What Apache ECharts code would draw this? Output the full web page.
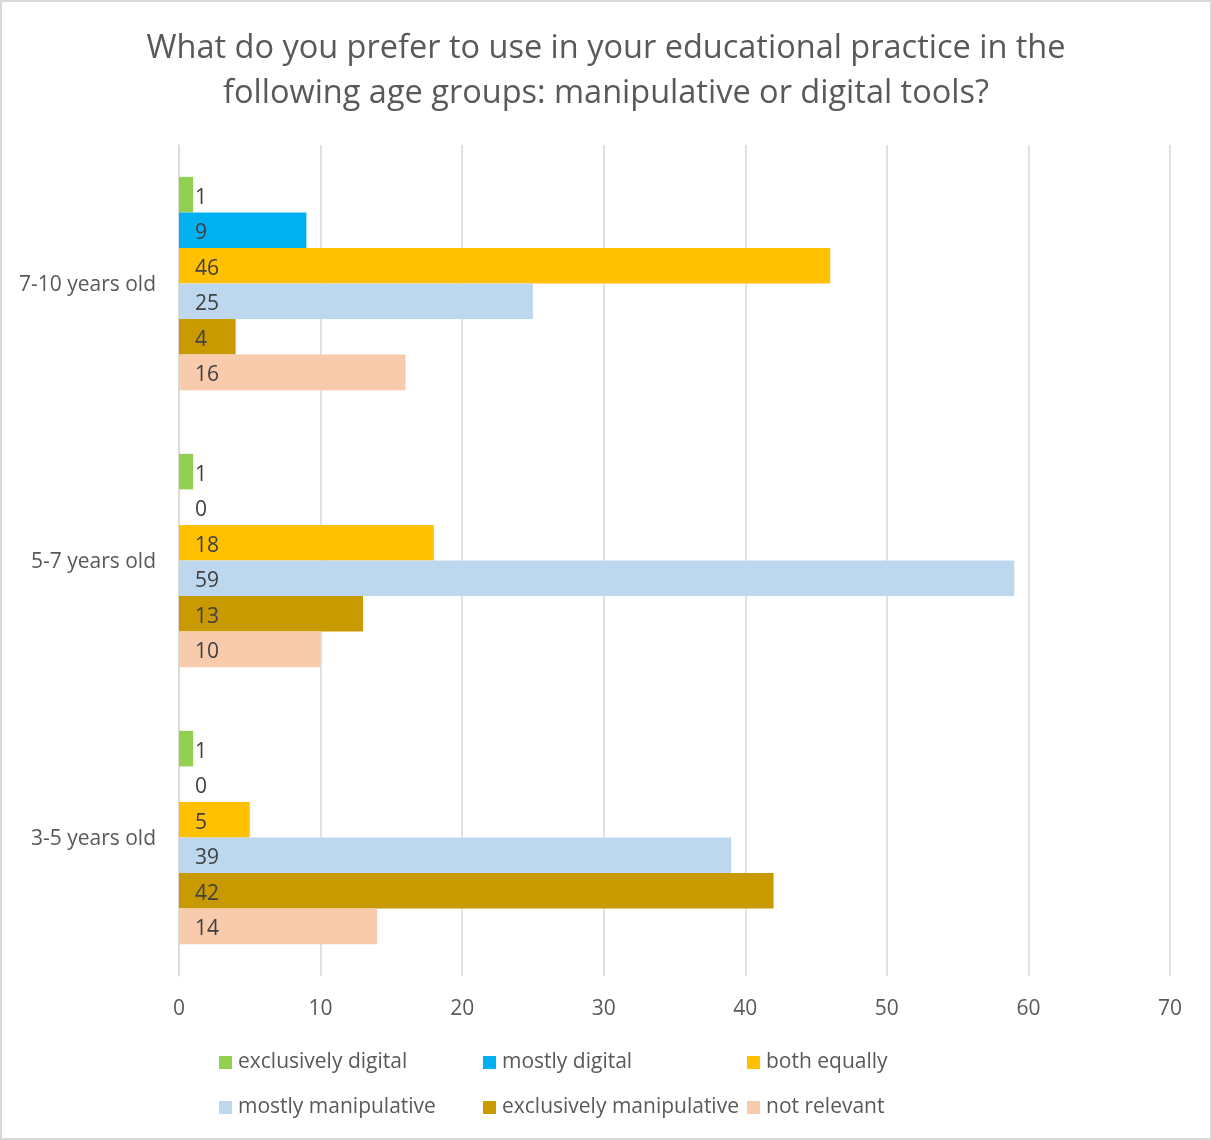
<!DOCTYPE html>
<html>
<head>
<meta charset="utf-8">
<script src="https://cdn.jsdelivr.net/npm/echarts@6/dist/echarts.min.js"></script>
<style>
  html, body { margin: 0; padding: 0; background: #ffffff; }
  #chart { width: 1212px; height: 1140px; }
</style>
</head>
<body>
<div id="chart"></div>
<script>
// Age groups, top to bottom
const categories = ['7-10 years old', '5-7 years old', '3-5 years old'];

// Responses per age group (same order as categories)
const exclusivelyDigital = [1, 1, 1];
const mostlyDigital = [9, 0, 0];
const bothEqually = [46, 18, 5];
const mostlyManipulative = [25, 59, 39];
const exclusivelyManipulative = [4, 13, 42];
const notRelevant = [16, 10, 14];

const seriesNames = ['exclusively digital', 'mostly digital', 'both equally',
  'mostly manipulative', 'exclusively manipulative', 'not relevant'];
const seriesValues = [exclusivelyDigital, mostlyDigital, bothEqually,
  mostlyManipulative, exclusivelyManipulative, notRelevant];
const seriesColors = ['#92D050', '#00B0F0', '#FFC000', '#BDD7EE', '#C99A00', '#F8CBAD'];

const xTicks = { min: 0, max: 70, interval: 10 };

const FONT = '"Open Sans", "DejaVu Sans", sans-serif';
const TEXT_GREY = '#595959';
const LABEL_DARK = '#404040';

const chart = echarts.init(document.getElementById('chart'), null, { renderer: 'canvas' });

const series = seriesNames.map((name, i) => ({
  name: name,
  type: 'bar',
  data: seriesValues[i],
  barGap: '0%',
  barCategoryGap: '23%',
  itemStyle: { color: seriesColors[i] },
  label: {
    show: true,
    position: 'insideLeft',
    distance: 16,
    formatter: '{v|{c}}',
    rich: { v: { color: LABEL_DARK, fontSize: 21, fontFamily: FONT, padding: [6, 0, 0, 0] } }
  },
  labelLayout: { hideOverlap: false }
}));

// Legend laid out as a 3 x 2 grid
const legendCols = [219, 483, 747];
const legendRows = [1052, 1097];
const legends = seriesNames.map((name, i) => ({
  data: [name],
  left: legendCols[i % 3],
  top: legendRows[Math.floor(i / 3)],
  icon: 'rect',
  itemWidth: 13,
  itemHeight: 13,
  itemGap: 6,
  padding: 0,
  selectedMode: false,
  textStyle: { color: TEXT_GREY, fontSize: 21, fontFamily: FONT, padding: [0, 0, 0, 1] }
}));

chart.setOption({
  animation: false,
  backgroundColor: '#ffffff',
  title: {
    text: 'What do you prefer to use in your educational practice in the\nfollowing age groups: manipulative or digital tools?',
    left: 'center',
    top: 21,
    textStyle: {
      color: TEXT_GREY,
      fontSize: 32.5,
      fontWeight: 'normal',
      fontFamily: FONT,
      lineHeight: 45
    }
  },
  legend: legends,
  grid: { left: 179, right: 42, top: 145, bottom: 164, containLabel: false },
  xAxis: {
    type: 'value',
    min: xTicks.min,
    max: xTicks.max,
    interval: xTicks.interval,
    axisLine: { show: false },
    axisTick: { show: false },
    splitLine: { show: true, lineStyle: { color: '#D9D9D9', width: 1.5 } },
    axisLabel: { color: TEXT_GREY, fontSize: 21, fontFamily: FONT, margin: 23 }
  },
  yAxis: {
    type: 'category',
    data: categories,
    inverse: true,
    axisLine: { show: true, lineStyle: { color: '#D9D9D9', width: 1.5 } },
    axisTick: { show: false },
    axisLabel: {
      color: TEXT_GREY, fontSize: 21, fontFamily: FONT, margin: 23,
      formatter: '{c|{value}}',
      rich: { c: { color: TEXT_GREY, fontSize: 21, fontFamily: FONT, padding: [3, 0, 0, 0] } }
    }
  },
  graphic: [{
    type: 'rect',
    shape: { x: 1, y: 1, width: 1210, height: 1138 },
    style: { fill: 'none', stroke: '#D9D9D9', lineWidth: 2 },
    silent: true
  }],
  series: series
});
</script>
</body>
</html>
